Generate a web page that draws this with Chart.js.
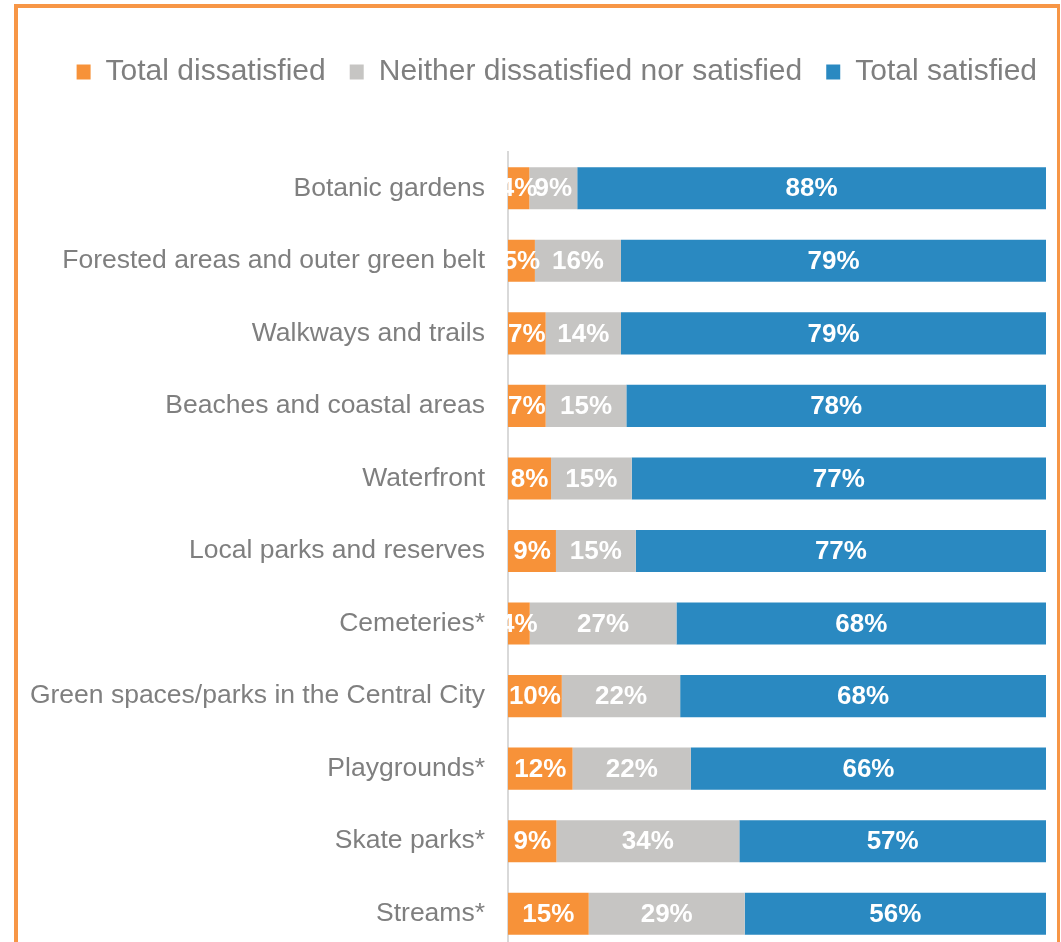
<!DOCTYPE html>
<html>
<head>
<meta charset="utf-8">
<script src="https://cdn.jsdelivr.net/npm/chart.js@4.4.1/dist/chart.umd.min.js"></script>
<style>
    html, body { margin: 0; padding: 0; background: #fff; width: 1061px; height: 942px; overflow: hidden; }
    #frame { position: absolute; left: 14px; top: 4px; width: 1046px; height: 960px; box-sizing: border-box;
             border: 4px solid #F79646; border-right-width: 3px; border-bottom: none; }
    #chart { position: absolute; left: 0; top: 0; }
</style>
</head>
<body>
<div id="frame"></div>
<canvas id="chart" width="1061" height="950"></canvas>
<script>
const categories = [
    'Botanic gardens',
    'Forested areas and outer green belt',
    'Walkways and trails',
    'Beaches and coastal areas',
    'Waterfront',
    'Local parks and reserves',
    'Cemeteries*',
    'Green spaces/parks in the Central City',
    'Playgrounds*',
    'Skate parks*',
    'Streams*'
];
const dissatisfied = [4, 5, 7, 7, 8, 9, 4, 10, 12, 9, 15];
const neutral = [9, 16, 14, 15, 15, 15, 27, 22, 22, 34, 29];
const satisfied = [88, 79, 79, 78, 77, 77, 68, 68, 66, 57, 56];
const seriesNames = ['Total dissatisfied', 'Neither dissatisfied nor satisfied', 'Total satisfied'];
const seriesColors = ['#F79239', '#C6C5C3', '#2A89C1'];

// bars are drawn as 100% stacked, labels show the reported values
const raw = [dissatisfied, neutral, satisfied];
const totals = categories.map((c, i) => dissatisfied[i] + neutral[i] + satisfied[i]);
const share = raw.map(arr => arr.map((v, i) => v / totals[i] * 100));

const PAD_TOP = 33;
const FONT = '"Liberation Sans", Arial, sans-serif';

// keeps the gap between legend and the first bar
const legendSpace = {
    id: 'legendSpace',
    beforeLayout(chart) {
        const legend = chart.legend;
        if (!legend || legend._patched) return;
        const fit = legend.fit;
        legend.fit = function () {
            fit.call(this);
            this.height = 152 - PAD_TOP;
        };
        legend._patched = true;
    }
};

const barLabels = {
    id: 'barLabels',
    afterDatasetsDraw(chart) {
        const ctx = chart.ctx;
        ctx.save();
        ctx.font = 'bold 26px ' + FONT;
        ctx.fillStyle = '#ffffff';
        ctx.textAlign = 'center';
        ctx.textBaseline = 'middle';
        chart.data.datasets.forEach((ds, di) => {
            chart.getDatasetMeta(di).data.forEach((bar, i) => {
                const x = (bar.x + bar.base) / 2;
                ctx.fillText(raw[di][i] + '%', x, bar.y + 1);
            });
        });
        ctx.restore();
    }
};

const ctx = document.getElementById('chart').getContext('2d');
new Chart(ctx, {
    type: 'bar',
    data: {
        labels: categories,
        datasets: seriesNames.map((name, k) => ({
            label: name,
            data: share[k],
            backgroundColor: seriesColors[k],
            borderWidth: 0,
            barPercentage: 0.58,
            categoryPercentage: 1
        }))
    },
    options: {
        indexAxis: 'y',
        responsive: false,
        animation: false,
        layout: { padding: { top: PAD_TOP, left: 0, right: 0, bottom: 0 } },
        plugins: {
            tooltip: { enabled: false },
            legend: {
                position: 'top',
                align: 'end',
                labels: {
                    boxWidth: 14,
                    boxHeight: 15,
                    padding: 24,
                    color: '#7F7F7F',
                    font: { family: FONT, size: 30 }
                }
            }
        },
        scales: {
            x: {
                stacked: true,
                min: 0,
                max: 100,
                display: false
            },
            y: {
                stacked: true,
                grid: { display: false, drawTicks: false },
                border: { display: true, color: '#D9D9D9', width: 2 },
                ticks: {
                    padding: 23,
                    color: '#7F7F7F',
                    font: { family: FONT, size: 26.5 }
                },
                afterFit(scale) {
                    scale.width = 508;
                    scale.paddingTop = 0;
                    scale.paddingBottom = 0;
                }
            },
            // empty axis that only holds the right margin
            yRight: {
                position: 'right',
                grid: { display: false },
                border: { display: false },
                ticks: { display: false },
                afterFit(scale) {
                    scale.width = 15;
                    scale.paddingTop = 0;
                    scale.paddingBottom = 0;
                }
            }
        }
    },
    plugins: [legendSpace, barLabels]
});
</script>
</body>
</html>
